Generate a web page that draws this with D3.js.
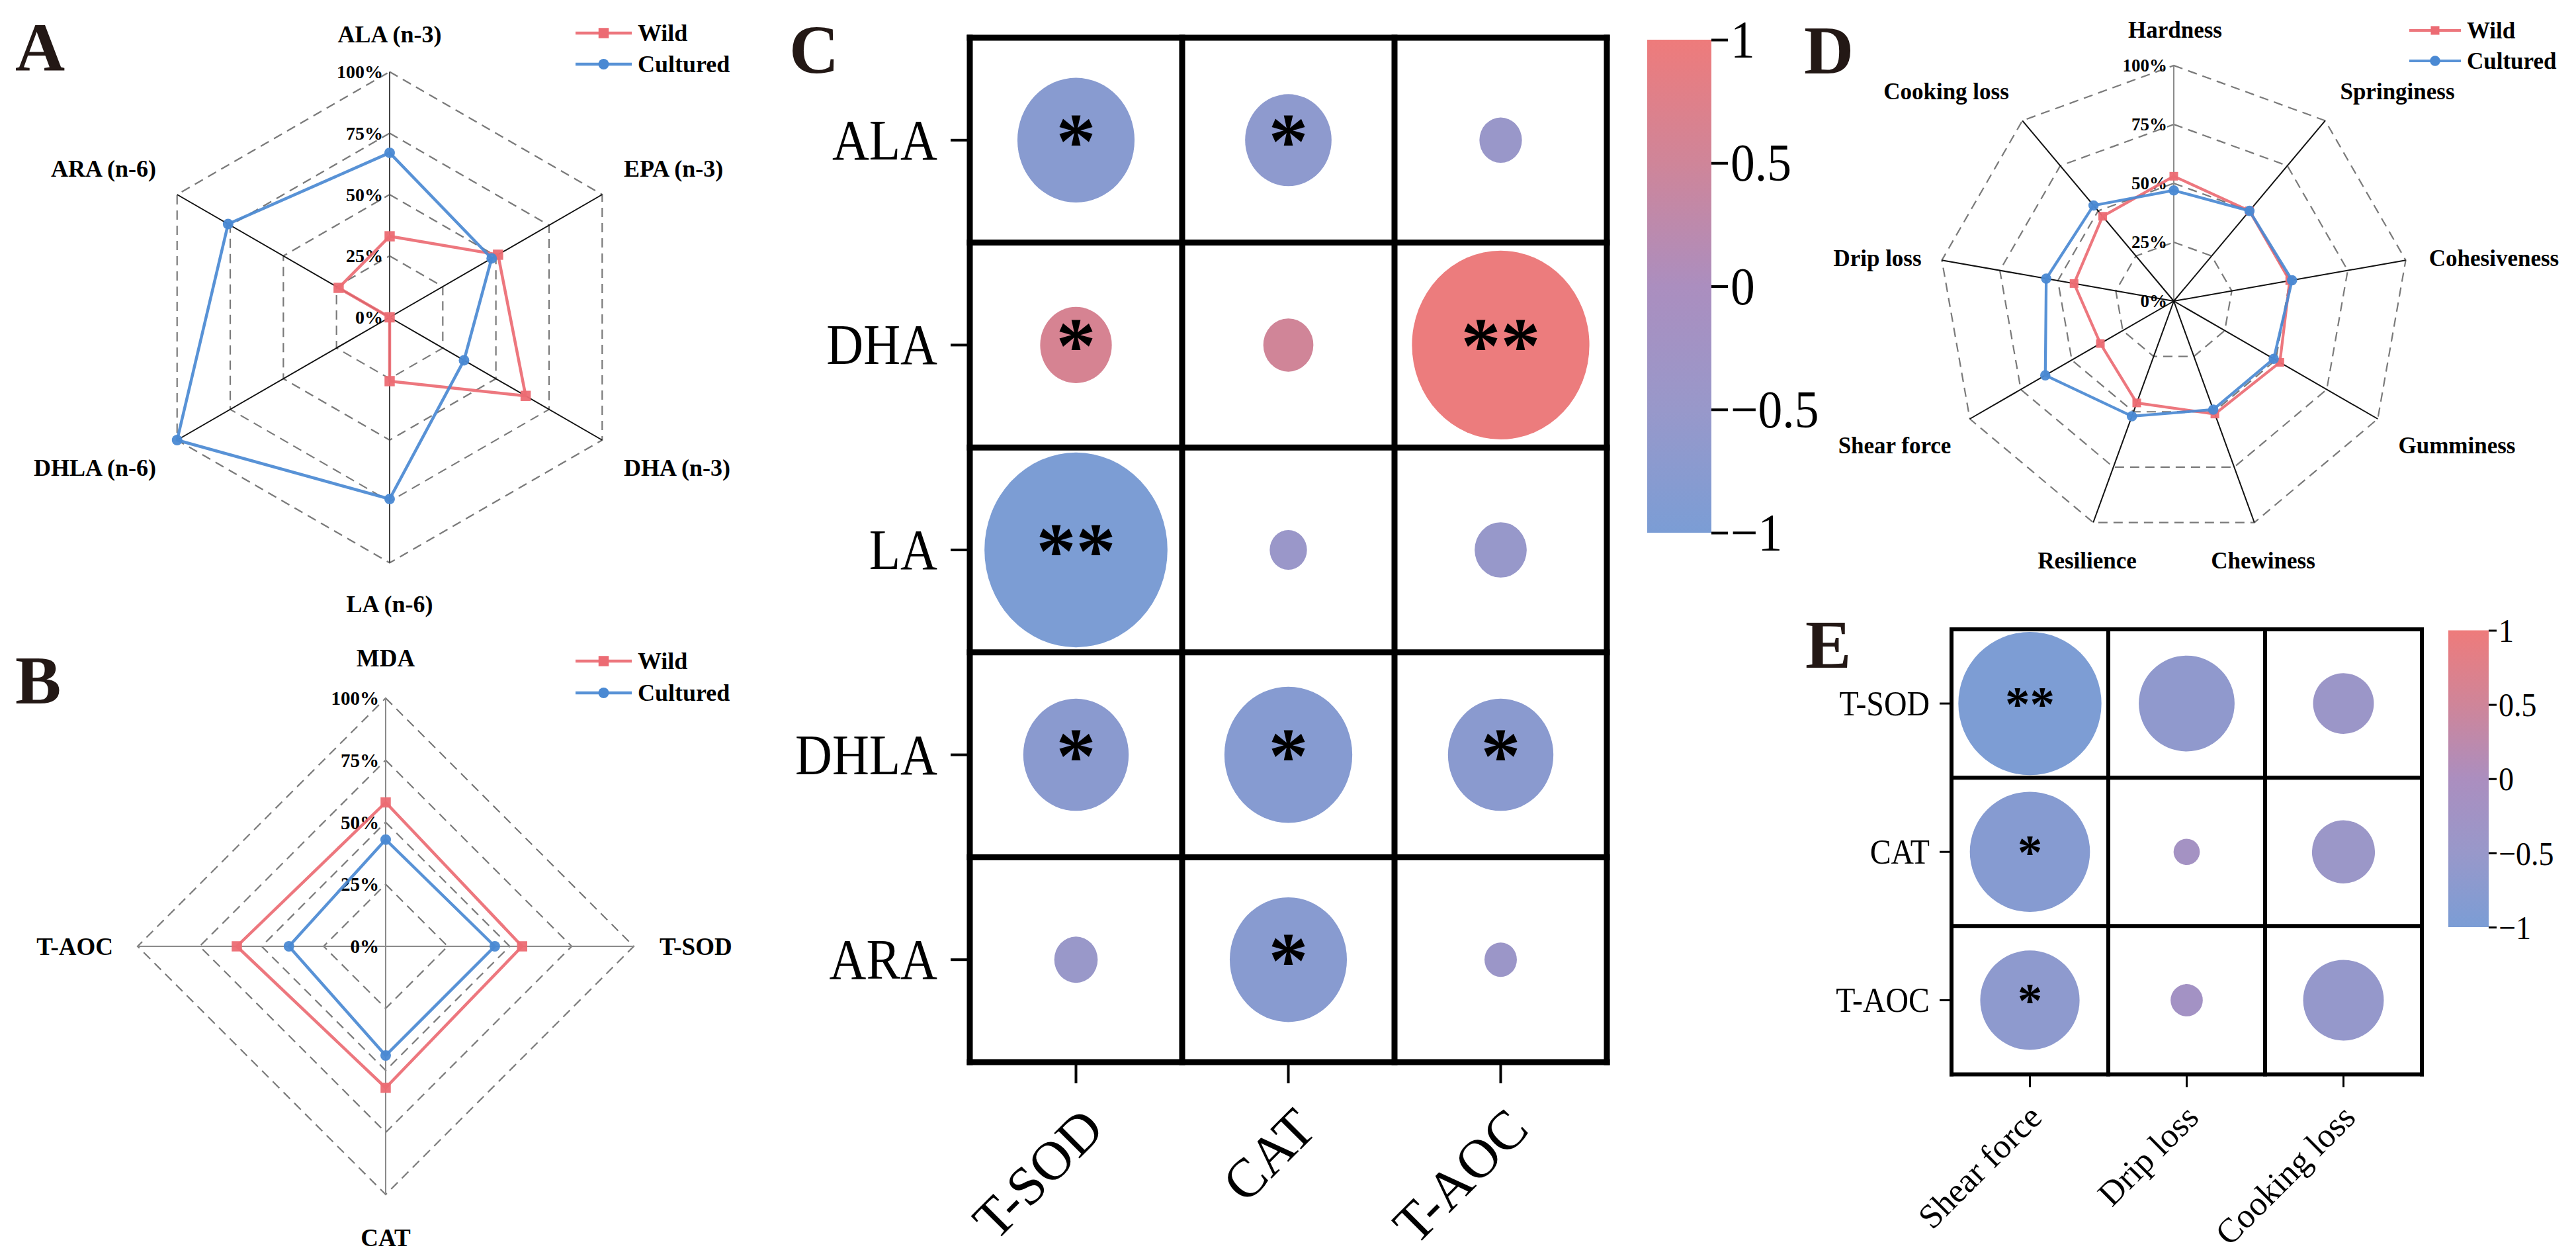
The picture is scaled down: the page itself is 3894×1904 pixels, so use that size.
<!DOCTYPE html>
<html><head><meta charset="utf-8">
<script src="https://cdn.jsdelivr.net/npm/d3@7"></script>
<style>
html,body{margin:0;padding:0;background:#fff}
svg{display:block}
text{font-family:"Liberation Serif","Times New Roman",Times,serif}
</style>
</head><body>
<svg id="chart" width="3894" height="1904"></svg>
<script>
// ---------------- DATA ----------------
const seriesNames = ["Wild", "Cultured"];
const radarTicks = [0, 25, 50, 75, 100];

// Panel A – fatty acids (% of max)
const faAxes = ["ALA (n-3)", "EPA (n-3)", "DHA (n-3)", "LA (n-6)", "DHLA (n-6)", "ARA (n-6)"];
const faWild = [33, 51, 64, 26, 0, 24];
const faCultured = [67, 48, 35, 74, 100, 76];

// Panel B – oxidative indices
const oxAxes = ["MDA", "T-SOD", "CAT", "T-AOC"];
const oxWild = [58, 55, 57, 60];
const oxCultured = [43, 44, 44, 39];

// Panel D – texture
const texAxes = ["Hardness", "Springiness", "Cohesiveness", "Gumminess", "Chewiness", "Resilience", "Shear force", "Drip loss", "Cooking loss"];
const texWild = [53, 50, 50, 52, 51, 46, 36, 43, 47];
const texCultured = [47, 50, 51, 49, 49, 52, 63, 55, 53];

// Panel C – correlation
const corrRowsC = ["ALA", "DHA", "LA", "DHLA", "ARA"];
const corrColsC = ["T-SOD", "CAT", "T-AOC"];
const corrC = [
  [-0.78, -0.67, -0.47],
  [0.61, 0.51, 0.96],
  [-0.975, -0.44, -0.52],
  [-0.74, -0.815, -0.74],
  [-0.475, -0.78, -0.41]
];
const sigC = [
  ["*", "*", ""],
  ["*", "", "**"],
  ["**", "", ""],
  ["*", "*", "*"],
  ["", "*", ""]
];

// Panel E – correlation
const corrRowsE = ["T-SOD", "CAT", "T-AOC"];
const corrColsE = ["Shear force", "Drip loss", "Cooking loss"];
const corrE = [
  [-0.965, -0.646, -0.41],
  [-0.81, -0.177, -0.425],
  [-0.67, -0.217, -0.544]
];
const sigE = [
  ["**", "", ""],
  ["*", "", ""],
  ["*", "", ""]
];
const colorTicks = [1, 0.5, 0, -0.5, -1];

// ---------------- STYLE ----------------
const RED = "#EC6B73", BLUE = "#4A89D3";
const color = d3.scaleLinear()
  .domain([-1, -0.5, 0, 0.5, 1])
  .range(["#7B9DD5", "#9898CA", "#AB8EBF", "#CF8599", "#EE7B7B"]);

const svg = d3.select("#chart");
svg.append("rect").attr("width", 3894).attr("height", 1904).attr("fill", "#fff");
const defs = svg.append("defs");

// ---------------- RADAR ----------------
function radar(o) {
  const g = svg.append("g");
  const n = o.axes.length, step = 2 * Math.PI / n;
  const r = d3.scaleLinear().domain([0, 100]).range([0, o.R]);
  const pt = (i, v) => [o.cx + r(v) * Math.sin(i * step), o.cy - r(v) * Math.cos(i * step)];
  const tr = `translate(${o.cx},${o.cy})`;

  radarTicks.filter(t => t > 0).forEach(t => {
    g.append("path")
      .attr("d", d3.lineRadial().angle((d, i) => i * step).radius(() => r(t)).curve(d3.curveLinearClosed)(o.axes))
      .attr("transform", tr)
      .attr("fill", "none").attr("stroke", "#7a7a7a")
      .attr("stroke-width", 2.2).attr("stroke-dasharray", "14,9");
  });

  o.axes.forEach((a, i) => {
    const [x, y] = pt(i, 100);
    g.append("line").attr("x1", o.cx).attr("y1", o.cy).attr("x2", x).attr("y2", y)
      .attr("stroke", o.axisColor(i)).attr("stroke-width", 2);
  });

  radarTicks.forEach(t => {
    g.append("text").attr("x", o.cx - 10).attr("y", o.cy - r(t))
      .attr("text-anchor", "end").attr("dominant-baseline", "central")
      .attr("font-size", o.tickFont).attr("font-weight", "bold").text(t + "%");
  });

  const sets = [
    { vals: o.wild, color: RED, sym: d3.symbolSquare, size: o.sq },
    { vals: o.cult, color: BLUE, sym: d3.symbolCircle, size: o.ci }
  ];
  sets.forEach(s => {
    g.append("path")
      .attr("d", d3.lineRadial().angle((d, i) => i * step).radius(d => r(d)).curve(d3.curveLinearClosed)(s.vals))
      .attr("transform", tr)
      .attr("fill", "none").attr("stroke", s.color).attr("stroke-width", o.lw)
      .attr("stroke-linejoin", "round").attr("opacity", 0.92);
    g.append("g").selectAll("path").data(s.vals).join("path")
      .attr("d", d3.symbol(s.sym, s.size))
      .attr("transform", (d, i) => `translate(${pt(i, d)})`)
      .attr("fill", s.color).attr("opacity", 0.95);
  });

  o.axes.forEach((a, i) => {
    const L = o.labelPos[i];
    g.append("text").attr("x", o.cx + L[0]).attr("y", o.cy + L[1])
      .attr("text-anchor", L[2]).attr("dominant-baseline", "central")
      .attr("font-size", o.labelFont).attr("font-weight", "bold").text(a);
  });

  // legend
  sets.forEach((s, k) => {
    const y = o.legY[k];
    g.append("line").attr("x1", o.legX[0]).attr("x2", o.legX[1]).attr("y1", y).attr("y2", y)
      .attr("stroke", s.color).attr("stroke-width", o.lw).attr("opacity", 0.92);
    g.append("path").attr("d", d3.symbol(s.sym, s.size))
      .attr("transform", `translate(${(o.legX[0] + o.legX[1]) / 2},${y})`).attr("fill", s.color);
    g.append("text").attr("x", o.legX[1] + 9).attr("y", y).attr("dominant-baseline", "central")
      .attr("font-size", o.legFont).attr("font-weight", "bold").text(seriesNames[k]);
  });
}

// Panel A
radar({
  cx: 589, cy: 479.5, R: 371, axes: faAxes, wild: faWild, cult: faCultured,
  axisColor: i => (i === 0 || i === 3) ? "#444" : "#111",
  tickFont: 28, labelFont: 36, legFont: 36, lw: 4.5, sq: 240, ci: 200,
  labelPos: [[0, -428, "middle"], [354, -225, "start"], [354, 227, "start"], [0, 433, "middle"], [-353, 227, "end"], [-353, -225, "end"]],
  legX: [870, 955], legY: [50, 97]
});

// Panel B
radar({
  cx: 583, cy: 1430, R: 375, axes: oxAxes, wild: oxWild, cult: oxCultured,
  axisColor: i => "#8a8a8a",
  tickFont: 29, labelFont: 37, legFont: 36, lw: 4.5, sq: 240, ci: 200,
  labelPos: [[0, -436, "middle"], [414, 0, "start"], [0, 440, "middle"], [-412, 0, "end"]],
  legX: [870, 955], legY: [999, 1047]
});

// Panel D
radar({
  cx: 3286, cy: 455, R: 356, axes: texAxes, wild: texWild, cult: texCultured,
  axisColor: i => i === 0 ? "#8a8a8a" : "#111",
  tickFont: 27, labelFont: 35, legFont: 35, lw: 4.2, sq: 170, ci: 190,
  labelPos: [[2, -410, "middle"], [338, -317, "middle"], [484, -65, "middle"], [428, 218, "middle"],
             [135, 392, "middle"], [-131, 392, "middle"], [-422, 218, "middle"], [-448, -65, "middle"], [-344, -317, "middle"]],
  legX: [3642, 3720], legY: [46, 92]
});

// ---------------- CORRELATION ----------------
function corr(o) {
  const g = svg.append("g");
  const x = d3.scaleBand().domain(o.cols).range([o.x0, o.x1]);
  const y = d3.scaleBand().domain(o.rows).range([o.y0, o.y1]);
  const bw = x.bandwidth(), bh = y.bandwidth();
  const size = o.sizeScale.range([0, bh / 2]);
  const cells = [];
  o.rows.forEach((rn, i) => o.cols.forEach((cn, j) => cells.push({ rn, cn, v: o.vals[i][j], s: o.sig[i][j] })));

  g.append("g").selectAll("ellipse").data(cells).join("ellipse")
    .attr("cx", d => x(d.cn) + bw / 2).attr("cy", d => y(d.rn) + bh / 2)
    .attr("ry", d => size(Math.abs(d.v))).attr("rx", d => size(Math.abs(d.v)) * o.aspect)
    .attr("fill", d => color(d.v));

  g.append("g").selectAll("text").data(cells.filter(d => d.s)).join("text")
    .attr("x", d => x(d.cn) + bw / 2).attr("y", d => y(d.rn) + bh / 2 + o.sigDy)
    .attr("text-anchor", "middle").attr("font-size", o.sigFont).attr("font-weight", "bold").attr("fill", "#000")
    .text(d => d.s);

  // grid
  const grid = g.append("g").attr("stroke", "#000").attr("stroke-width", o.sw).attr("stroke-linecap", "square");
  const xb = o.cols.map(c => x(c)).concat([o.x1]);
  const yb = o.rows.map(r => y(r)).concat([o.y1]);
  xb.forEach(v => grid.append("line").attr("x1", v).attr("x2", v).attr("y1", o.y0).attr("y2", o.y1));
  yb.forEach(v => grid.append("line").attr("y1", v).attr("y2", v).attr("x1", o.x0).attr("x2", o.x1));

  // left axis
  const ax = g.append("g").attr("transform", `translate(${o.x0},0)`)
    .call(d3.axisLeft(y).tickSize(o.tickL).tickPadding(o.padL));
  ax.select(".domain").remove();
  ax.selectAll("line").attr("stroke", "#000").attr("stroke-width", o.tickW);
  ax.selectAll("text").each(function () {
    const t = d3.select(this), xx = +t.attr("x");
    t.attr("x", 0).attr("dy", null).attr("dominant-baseline", "central")
      .attr("transform", `translate(${xx},0) scale(${o.cond},1)`);
  }).attr("font-size", o.rowFont).attr("font-family", null).attr("fill", "#000");

  // bottom axis
  const bx = g.append("g").attr("transform", `translate(0,${o.y1})`)
    .call(d3.axisBottom(x).tickSize(o.tickB).tickPadding(0));
  bx.select(".domain").remove();
  bx.selectAll("line").attr("stroke", "#000").attr("stroke-width", o.tickW);
  bx.selectAll("text")
    .attr("y", 0).attr("dy", null).attr("x", 0)
    .attr("dominant-baseline", "central").attr("text-anchor", "end")
    .attr("transform", `translate(${o.colDx},${o.colY - o.y1}) rotate(-45)`)
    .attr("font-size", o.colFont).attr("font-family", null).attr("fill", "#000");
}

function colorbar(o) {
  const id = o.id;
  const grad = defs.append("linearGradient").attr("id", id)
    .attr("x1", 0).attr("y1", 1).attr("x2", 0).attr("y2", 0);
  color.domain().forEach((d, i) => {
    grad.append("stop").attr("offset", (d + 1) / 2).attr("stop-color", color.range()[i]);
  });
  const g = svg.append("g");
  g.append("rect").attr("x", o.x).attr("y", o.y0).attr("width", o.w).attr("height", o.y1 - o.y0)
    .attr("fill", `url(#${id})`);
  const s = d3.scaleLinear().domain([-1, 1]).range([o.y1, o.y0]);
  const ax = g.append("g").attr("transform", `translate(${o.x + o.w},0)`)
    .call(d3.axisRight(s).tickValues(colorTicks).tickFormat(d3.format("")).tickSize(o.tick).tickPadding(o.pad));
  ax.select(".domain").remove();
  ax.selectAll("line").attr("stroke", "#000").attr("stroke-width", o.tickW);
  ax.selectAll("text").each(function () {
    const t = d3.select(this), xx = +t.attr("x");
    t.attr("x", 0).attr("dy", null).attr("dominant-baseline", "central")
      .attr("transform", `translate(${xx},0) scale(${o.cond},1)`);
  }).attr("font-size", o.font).attr("font-family", null).attr("fill", "#000");
}

// Panel C
corr({
  rows: corrRowsC, cols: corrColsC, vals: corrC, sig: sigC,
  x0: 1466, x1: 2429, y0: 57, y1: 1605,
  sizeScale: d3.scalePow().exponent(2).domain([0, 1]), aspect: 0.94,
  sw: 9, tickW: 4, tickL: 29, padL: 20, tickB: 32, cond: 0.9,
  rowFont: 86, colFont: 83, colDx: 26, colY: 1690,
  sigFont: 120, sigDy: 42
});
colorbar({ id: "gC", x: 2490, w: 97, y0: 60, y1: 805, tick: 25, pad: 4, tickW: 4, font: 80, cond: 0.92 });

// Panel E
corr({
  rows: corrRowsE, cols: corrColsE, vals: corrE, sig: sigE,
  x0: 2950, x1: 3661, y0: 951, y1: 1623.5,
  sizeScale: d3.scaleLinear().domain([0, 1]), aspect: 1,
  sw: 6, tickW: 3, tickL: 18, padL: 15, tickB: 19.5, cond: 0.92,
  rowFont: 52, colFont: 52, colDx: 8.5, colY: 1679,
  sigFont: 75, sigDy: 26
});
colorbar({ id: "gE", x: 3701, w: 61, y0: 952.5, y1: 1401, tick: 12, pad: 3, tickW: 3, font: 50, cond: 0.92 });

// ---------------- PANEL LETTERS ----------------
const letters = [["A", 23, 107], ["B", 23, 1063], ["C", 1193, 110], ["D", 2727, 111], ["E", 2729, 1009]];
svg.append("g").selectAll("text").data(letters).join("text")
  .attr("x", d => d[1]).attr("y", d => d[2])
  .attr("font-size", 104).attr("font-weight", "bold").attr("fill", "#231815")
  .text(d => d[0]);
</script>
</body></html>
